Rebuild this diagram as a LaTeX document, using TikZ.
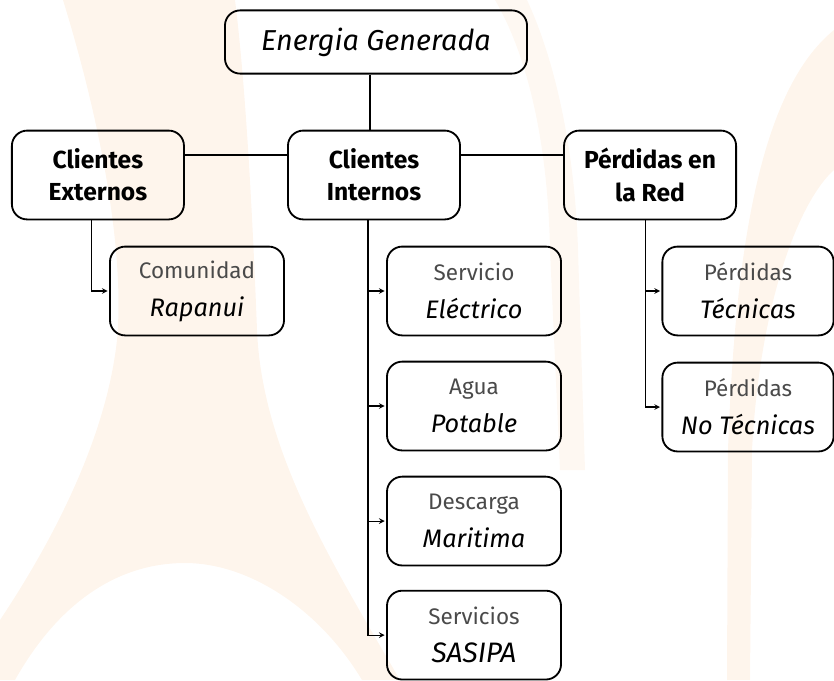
\documentclass[tikz,border=0pt]{standalone}
\usepackage{fontspec}
\setsansfont{Fira Sans}
\definecolor{peach}{HTML}{FEF5EC}
\definecolor{softgray}{HTML}{4A4A4A}

\begin{document}
\begin{tikzpicture}[x=0.025cm,y=-0.025cm,->,>=stealth,shorten >=1pt,auto,node distance=6.9cm,thick,
  main node/.style={draw,rounded corners=0.38cm,line width=1.3pt,minimum width=4.3cm,minimum height=2.22cm,align=center,
    font=\sffamily\bfseries\fontsize{17.5}{23}\selectfont},
  top node/.style={main node,minimum width=7.55cm,minimum height=1.58cm,font=\sffamily\itshape\fontsize{20.5}{24}\selectfont},
  sub node/.style={main node,minimum width=4.35cm,font=\sffamily\fontsize{16}{27}\selectfont,text=softgray}]
                \useasboundingbox (0,0) rectangle (834,680);
                % background
                \fill[peach] (63,0) .. controls (100,120) and (125,250) .. (117,340) .. controls (105,450) and (40,560) .. (0,620) -- (0,680) -- (15,680)
                    .. controls (60,600) and (120,563) .. (185,563) .. controls (250,563) and (320,610) .. (362,680) -- (400,680)
                    .. controls (330,560) and (262,450) .. (257,330) .. controls (252,200) and (245,80) .. (235,0) -- cycle;
                \fill[peach] (834,30) .. controls (760,90) and (735,250) .. (728,450) -- (727,680) -- (750,680) -- (752,450)
                    .. controls (760,300) and (800,200) .. (834,170) -- cycle;
                \fill[peach!70] (495,0) .. controls (530,60) and (548,150) .. (550,250) -- (560,470) -- (585,470) -- (578,250)
                    .. controls (575,150) and (555,60) .. (527,0) -- cycle;

                \node[top node] (1) at (376,42) {Energia Generada};
                \node[main node] (3) at (374,175) {Clientes\\Internos};
                \node[main node] (2) [left of=3] {Clientes\\Externos};
                \node[main node] (4) [right of=3] {Pérdidas en\\la Red};
                \node[sub node] (5) at (197,291) {Comunidad\\{\color{black}\itshape\fontsize{18}{27}\selectfont Rapanui}};
                \node[sub node] (6) at (474,291) {Servicio\\{\color{black}\itshape\fontsize{18}{27}\selectfont Eléctrico}};
                \node[sub node,node distance=2.875cm] (7) [below of=6] {Agua\\{\color{black}\itshape\fontsize{18}{27}\selectfont Potable}};
                \node[sub node,node distance=2.875cm] (8) [below of=7] {Descarga\\{\color{black}\itshape\fontsize{18}{27}\selectfont Maritima}};
                \node[sub node,node distance=2.85cm] (9) [below of=8] {Servicios\\{\color{black}\itshape\fontsize{20}{27}\selectfont SASIPA}};
                \node[sub node,minimum width=4.28cm] (10) at (748,291) {Pérdidas\\{\color{black}\itshape\fontsize{18}{27}\selectfont Técnicas}};
                \node[sub node,minimum width=4.28cm,node distance=2.9cm] (11) [below of=10] {Pérdidas\\{\color{black}\itshape\fontsize{18}{27}\selectfont No Técnicas}};

                \path[-,shorten >=0pt]
                    ([xshift=-0.15cm]1.south) edge ([xshift=-0.15cm]1.south |- 3.north)
                    (2.13) edge (3.167)
                    (3.13) edge (4.167)
                    ;
                \draw ([xshift=-0.15cm]2.south) |- (5.west);
                \draw ([xshift=-0.15cm]3.south) |- (6.west);
                \draw ([xshift=-0.15cm]3.south) |- (7.west);
                \draw ([xshift=-0.15cm]3.south) |- (8.west);
                \draw ([xshift=-0.15cm]3.south) |- (9.west);
                \draw ([xshift=-0.12cm]4.south) |- (10.west);
                \draw ([xshift=-0.12cm]4.south) |- (11.west);
            \end{tikzpicture}
\end{document}
